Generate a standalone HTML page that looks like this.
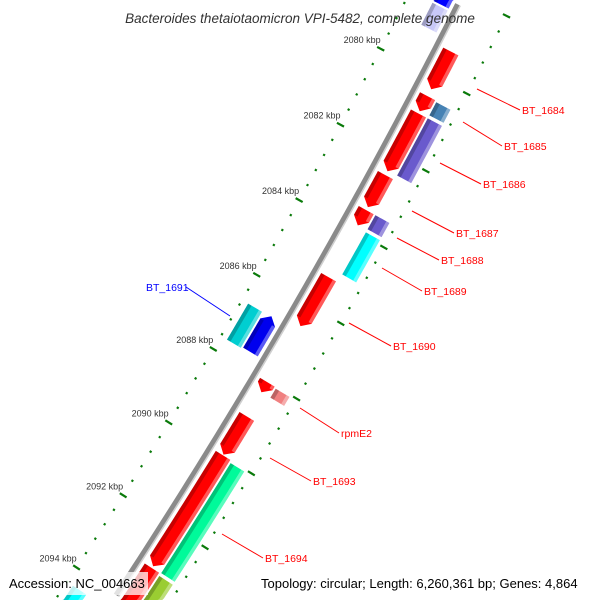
<!DOCTYPE html>
<html><head><meta charset="utf-8"><style>
html,body{margin:0;padding:0;background:#fff;width:600px;height:600px;overflow:hidden;}
svg{display:block;overflow:hidden;}
</style></head><body>
<svg id="map" width="600" height="600" viewBox="0 0 600 600" xmlns="http://www.w3.org/2000/svg" font-family="Liberation Sans, sans-serif">
<rect x="0" y="0" width="600" height="600" fill="#fff"/>
<g id="ticks"></g>
<g id="backbone"></g>
<g id="genes"></g>
<g id="labels"></g>
<text x="300" y="23" text-anchor="middle" font-size="13.5" font-style="italic" fill="#333">Bacteroides thetaiotaomicron VPI-5482, complete genome</text>
<rect x="5" y="572" width="143" height="23" fill="#fff" fill-opacity="0.75"/>
<text x="9" y="588" font-size="13" fill="#000">Accession: NC_004663</text>
<rect x="257" y="572" width="338" height="23" fill="#fff" fill-opacity="0.75"/>
<text x="261" y="588" font-size="13" fill="#000">Topology: circular; Length: 6,260,361 bp; Genes: 4,864</text>
</svg>
<script>
// ---- data ----
const geneNames  = ['top-rev','pale-rev','BT_1684','small-1','BT_1685r','BT_1685c','BT_1686r','BT_1686c','gene-d','BT_1687','BT_1688c','BT_1688r','BT_1689c','BT_1689r','BT_1690','BT_1691','BT_1691c','BT_1692','rpmE2','BT_1693','BT_1694r','BT_1694c','gene-k','gene-kc','gene-bottom-c'];
const geneStarts = [2077.0,2078.5,2079.31,2080.47,2080.50,2080.50,2080.92,2080.92,2082.53,2083.45,2083.45,2083.87,2083.90,2083.87,2085.22,2086.66,2086.68,2088.02,2088.05,2088.94,2089.99,2090.05,2093.06,2093.12,2094.40];
const geneEnds   = [2078.45,2079.07,2080.29,2080.86,2080.86,2080.84,2082.43,2082.41,2083.37,2083.85,2083.82,2085.01,2085.01,2085.01,2086.52,2087.62,2087.65,2088.29,2088.29,2089.97,2093.01,2093.04,2094.6,2094.6,2095.5];
const geneSlots  = [-1,-1,1,1,0,2,1,2,1,1,2,0,2,0,1,-1,-2,1,2,1,1,2,1,2,-2];
const geneArrow  = [1,0,1,1,0,0,1,0,1,1,0,0,0,0,1,1,0,1,0,1,1,0,1,0,0];
const geneColors = ['#0000ff','#c8c8f8','#ff0000','#ff0000','#fff','#4682b4','#ff0000','#6a5acd','#ff0000','#ff0000','#6a5acd','#fff','#00ffff','#fff','#ff0000','#0000ee','#00ced1','#ff0000','#f08080','#ff0000','#ff0000','#00fa9a','#ff0000','#9acd32','#00ffff'];
const tickStartKbp = 2076;
const tickStepKbp = 0.4;
const tickCount = 52;
const tickLabelEvery = 5;

// ---- geometry ----
const CX=-4932, CY=-2718;
const phi0=27.51, degPerKbp=0.411, refKbp=2080;
const slotR={'1':[6045,6062],'2':[6064,6080],'-1':[6015,6032],'-2':[5997,6013]};
const NS='http://www.w3.org/2000/svg';
function clamp(v){return Math.max(0,Math.min(600,v));}
function ang(k){return (phi0+(k-refKbp)*degPerKbp)*Math.PI/180;}
function pt(k,r){const a=ang(k);return [CX+r*Math.cos(a),CY+r*Math.sin(a)];}
function ptA(a,r){return [clamp(CX+r*Math.cos(a)),clamp(CY+r*Math.sin(a))];}
function mk(tag,attrs,parent){const e=document.createElementNS(NS,tag);for(const k in attrs)e.setAttribute(k,attrs[k]);parent.appendChild(e);return e;}
function arcPts(a1,a2,r,n){const p=[];for(let i=0;i<=n;i++){p.push(ptA(a1+(a2-a1)*i/n,r));}return p;}
function toD(p){return 'M'+p.map(q=>q[0].toFixed(2)+','+q[1].toFixed(2)).join('L')+'Z';}
function inFrame(p,m){return p[0]>=m&&p[0]<=600-m&&p[1]>=m&&p[1]<=600-m;}

// backbone
const bb=document.getElementById('backbone');
function arcPath(r){
  const p=[];
  for(let i=0;i<=120;i++){const a=ang(2076.5)+(ang(2095.8)-ang(2076.5))*i/120;const q=[CX+r*Math.cos(a),CY+r*Math.sin(a)];if(inFrame(q,2))p.push(q);}
  return 'M'+p.map(q=>q[0].toFixed(2)+','+q[1].toFixed(2)).join('L');
}
const b1=mk('path',{d:arcPath(6038),fill:'none',stroke:'#8a8a8a','stroke-width':5},bb);


const b2=mk('path',{d:arcPath(6041),fill:'none',stroke:'#cfcfcf','stroke-width':1.6},bb);



// ticks
const tg=document.getElementById('ticks');
[5990,6087].forEach((r,ri)=>{
  for(let i=0;i<tickCount;i++){
    const k=tickStartKbp+i*tickStepKbp;
    const big=(i%tickLabelEvery===0);
    const len=big?8:2.2;
    const p1=pt(k,r-len/2),p2=pt(k,r+len/2);
    if(!inFrame(p1,2)||!inFrame(p2,2)) continue;
    const l=mk('line',{x1:p1[0],y1:p1[1],x2:p2[0],y2:p2[1],stroke:'#0a7a0a','stroke-width':2.2},tg);
    
    
    if(big&&ri===0){
      const p=pt(k,r);
      const t=mk('text',{x:p[0].toFixed(1),y:(p[1]-6).toFixed(1),'text-anchor':'end','font-size':'9',fill:'#333'},tg);
      t.textContent=Math.round(k)+' kbp';
      
      
    }
  }
});

// genes
const gg=document.getElementById('genes');
for(let i=0;i<geneNames.length;i++){
  const s=geneSlots[i]; if(s===0) continue;
  const [r1,r2]=slotR[String(s)];
  const a1=ang(geneStarts[i]),a2=ang(geneEnds[i]);
  const rm=(r1+r2)/2;
  const head=geneArrow[i]?7.5/rm:0;
  let pts;
  if(!geneArrow[i]){
    pts=arcPts(a1,a2,r1,20).concat(arcPts(a2,a1,r2,20));
  } else if(s>0){
    const ab=a2-head;
    pts=arcPts(a1,ab,r1,20);pts.push(ptA(a2,rm));pts=pts.concat(arcPts(ab,a1,r2,20));
  } else {
    const ab=a1+head;
    pts=arcPts(a2,ab,r1,20);pts.push(ptA(a1,rm));pts=pts.concat(arcPts(ab,a2,r2,20));
  }
  const g=mk('g',{},gg);
  
  
  mk('path',{d:toD(pts),fill:geneColors[i]},g);
  const ba1=(geneArrow[i]&&s<0)?a1+head:a1, ba2=(geneArrow[i]&&s>0)?a2-head:a2;
  const dark=arcPts(ba1,ba2,r1,20).concat(arcPts(ba2,ba1,r1+4,20));
  mk('path',{d:toD(dark),fill:'#000','fill-opacity':0.22},g);
  const lite=arcPts(ba1,ba2,r2-3.5,20).concat(arcPts(ba2,ba1,r2,20));
  mk('path',{d:toD(lite),fill:'#fff','fill-opacity':0.35},g);
}

// labels
const labelText=['BT_1684','BT_1685','BT_1686','BT_1687','BT_1688','BT_1689','BT_1690','rpmE2','BT_1693','BT_1694','BT_1691'];
const labelPos=[[522,114,477,89],[504,150,463,122],[483,188,440,163],[456,237,412,211],[441,264,397,238],[424,295,382,268],[393,350,349,323],[341,437,300,408],[313,485,270,458],[265,562,222,534],[146,291,230,316]];
const lg=document.getElementById('labels');
labelText.forEach((t,i)=>{
  const [tx,ty,lx,ly]=labelPos[i];
  const col=t==='BT_1691'?'#0000ff':'#ff0000';
  const ex=t==='BT_1691'?tx+40:tx-2, ey=ty-4;
  const l=mk('line',{x1:lx,y1:ly,x2:ex,y2:ey,stroke:col,'stroke-width':1},lg);
  
  
  const e=mk('text',{x:tx,y:ty,'font-size':'10.5',fill:col},lg);
  e.textContent=t;
  
  
});
</script>
</body></html>
